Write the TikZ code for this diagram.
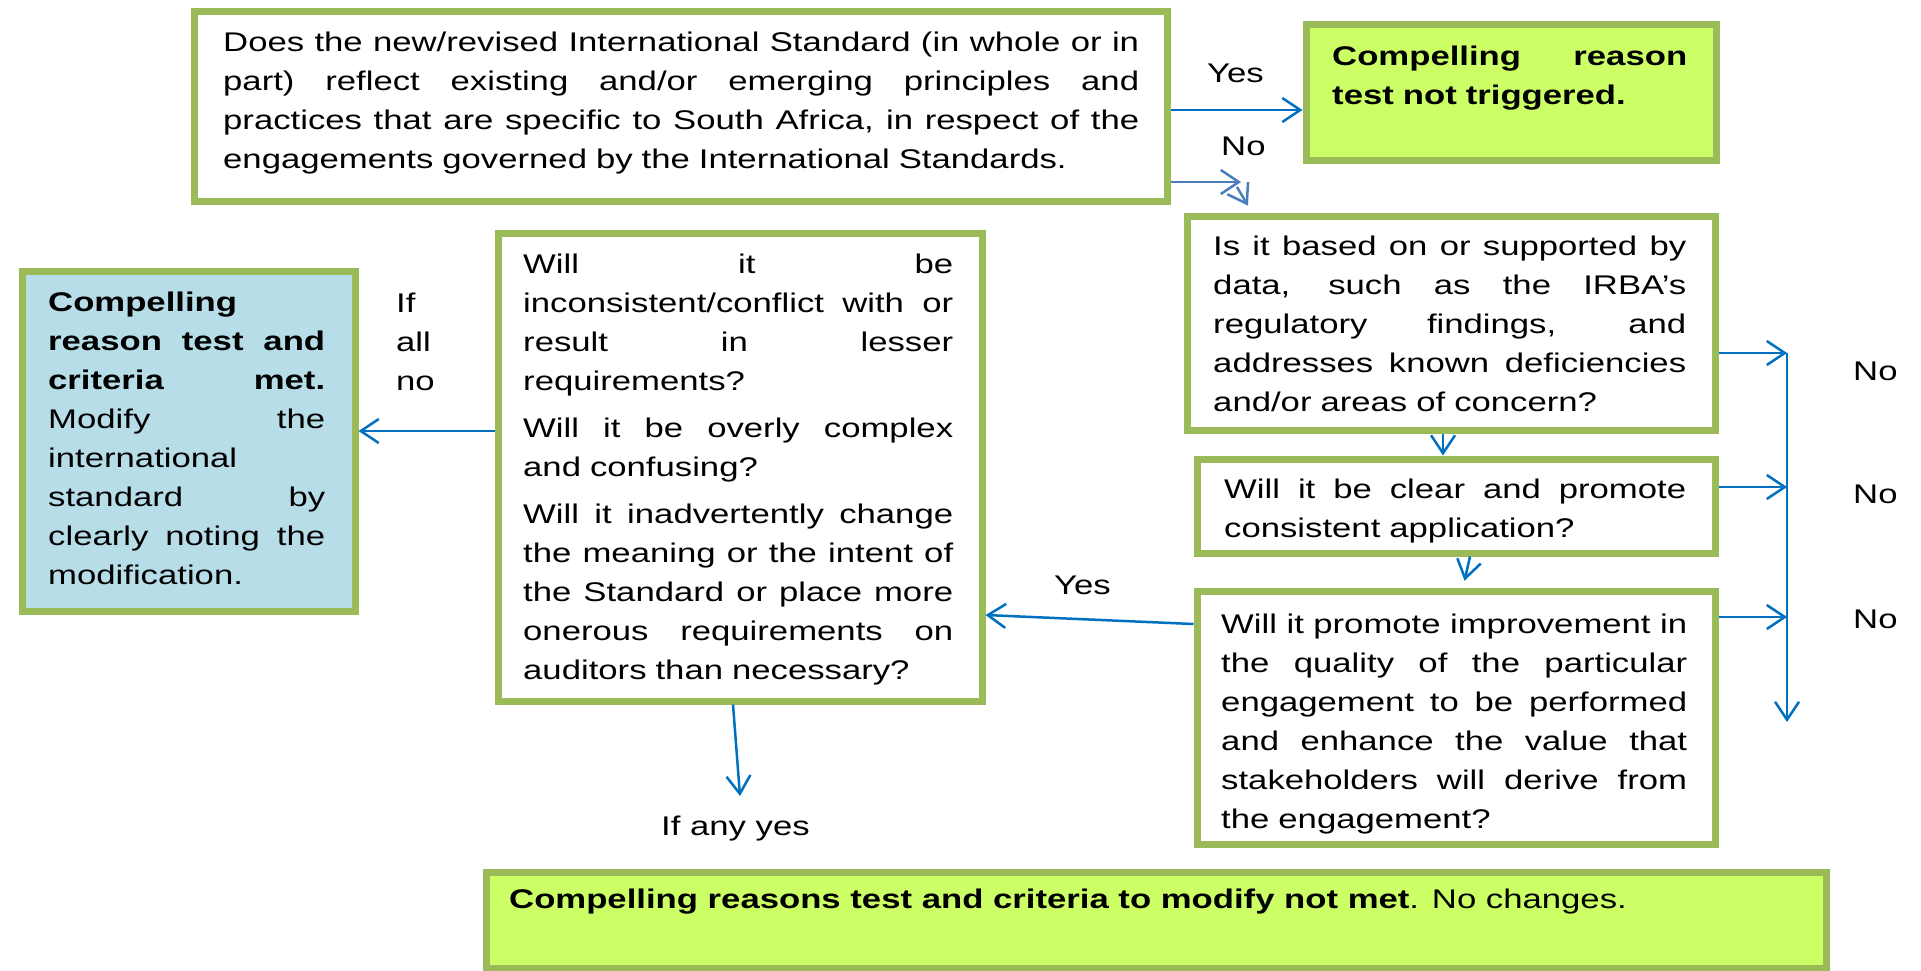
\documentclass[tikz,border=0pt]{standalone}
\usepackage{fontspec}
\setmainfont{Liberation Sans}[FakeStretch=1.285]
\usetikzlibrary{arrows.meta,calc}

\definecolor{boxgreen}{HTML}{9BBB59}
\definecolor{limefill}{HTML}{CCFF66}
\definecolor{paleblue}{HTML}{B7DEE8}
\definecolor{flowblue}{HTML}{0070C0}
\definecolor{steelblue}{HTML}{4A7EBB}

% one fully justified line of a box text (stretchable interword spaces)
\newcommand\jline[1]{\makebox[\hsize][s]{\spaceskip=0pt\xspaceskip=0pt #1}}

\tikzset{
  gbox/.style={draw=boxgreen, line width=7pt, fill=white, anchor=north west,
    inner sep=0pt, outer sep=3.5pt},
  body/.style={anchor=north west, inner sep=0pt, align=left,
    font=\fontsize{27}{39}\selectfont},
  lbl/.style={anchor=base west, inner sep=0pt, font=\fontsize{27}{39}\selectfont},
  arr/.style={draw=flowblue, line width=2.5pt,
    -{Straight Barb[length=18pt, width=24pt]}},
  arrlight/.style={arr, draw=steelblue},
}

\begin{document}
\begin{tikzpicture}[x=1pt, y=-1pt]
\useasboundingbox (0,0) rectangle (1921,970);

% ---- boxes ----
\node[gbox, minimum width=973pt, minimum height=190pt] (q1) at (190.5,7.5) {};
\node[gbox, fill=limefill, minimum width=410pt, minimum height=136pt] (nt) at (1302.5,20.5) {};
\node[gbox, minimum width=528pt, minimum height=214pt] (q2) at (1183.5,212.5) {};
\node[gbox, minimum width=518pt, minimum height=94pt] (q3) at (1193.5,455.5) {};
\node[gbox, minimum width=518pt, minimum height=253pt] (q4) at (1193.5,587.5) {};
\node[gbox, minimum width=484pt, minimum height=468pt] (q5) at (494.5,229.5) {};
\node[gbox, fill=paleblue, minimum width=333pt, minimum height=340pt] (met) at (18.5,267.5) {};
\node[gbox, fill=limefill, minimum width=1340pt, minimum height=96pt] (notmet) at (482.5,868.5) {};

% ---- box texts ----
\node[body, text width=916pt] (q1t) at (223,24.4) {\strut\jline{Does the new/revised International Standard (in whole or in}\\
\jline{part) reflect existing and/or emerging principles and}\\
\jline{practices that are specific to South Africa, in respect of the}\\
engagements governed by the International Standards.};

\node[body, text width=355pt, font=\fontsize{27}{39}\selectfont\bfseries] (ntt) at (1332,37.7)
  {\strut\jline{Compelling reason}\\ test not triggered.};

\node[body, text width=473pt] (q2t) at (1213,227.7) {\strut\jline{Is it based on or supported by}\\
\jline{data, such as the IRBA’s}\\
\jline{regulatory findings, and}\\
\jline{addresses known deficiencies}\\
and/or areas of concern?};

\node[body, text width=462pt] (q3t) at (1224,470.7) {\strut\jline{Will it be clear and promote}\\
consistent application?};

\node[body, text width=466pt] (q4t) at (1221,605.7) {\strut\jline{Will it promote improvement in}\\
\jline{the quality of the particular}\\
\jline{engagement to be performed}\\
\jline{and enhance the value that}\\
\jline{stakeholders will derive from}\\
the engagement?};

\node[body, text width=430pt] (q5t) at (523,245.7) {\strut\jline{Will it be}\\
\jline{inconsistent/conflict with or}\\
\jline{result in lesser}\\
requirements?\\[8pt]
\jline{Will it be overly complex}\\
and confusing?\\[8pt]
\jline{Will it inadvertently change}\\
\jline{the meaning or the intent of}\\
\jline{the Standard or place more}\\
\jline{onerous requirements on}\\
auditors than necessary?};

\node[body, text width=277pt] (mett) at (48,283.7) {\strut\textbf{Compelling}\\
\jline{\bfseries reason test and}\\
\jline{\bfseries criteria met.}\\
\jline{Modify the}\\
international\\
\jline{standard by}\\
\jline{clearly noting the}\\
modification.};

\node[lbl] (notmett) at (509,908) {\textbf{Compelling reasons test and criteria to modify not met}. No changes.};

% ---- connector labels ----
\node[lbl] (yes1) at (1207,82) {Yes};
\node[lbl] (no1) at (1221,155) {No};
\node[lbl] (no2) at (1853,380) {No};
\node[lbl] (no3) at (1853,503) {No};
\node[lbl] (no4) at (1853,628) {No};
\node[lbl] (yes2) at (1054,594) {Yes};
\node[lbl] (anyyes) at (661,835) {If any yes};
\node[body, text width=60pt] (allno) at (396,284.7) {\strut If\\ all\\ no};

% ---- connectors ----
\coordinate (nohead) at (1241,182);
\coordinate (nodiag) at (1237,187);
\coordinate (r1) at (1787,353);
\coordinate (r2) at (1787,487);
\coordinate (r3) at (1787,617);
\coordinate (rend) at (1787,722);
\coordinate (anyend) at (740,796);

\draw[arr] (q1.east |- 0,110) -- (nt.west |- 0,110);
\draw[arrlight] (q1.east |- 0,182) -- (nohead);
\draw[arrlight, shorten >=8pt] (nodiag) -- (q2.north -| 1252,0);

\draw[arr] (q2.south -| 1443,0) -- (q3.north -| 1443,0);
\draw[arr, shorten >=7pt] (q3.south -| 1470,0) -- (q4.north -| 1463,0);

\draw[arr] (q2.east |- r1) -- (r1);
\draw[arr] (q3.east |- r2) -- (r2);
\draw[arr] (q4.east |- r3) -- (r3);
\draw[arr] (r1) -- (rend);

\draw[arr] (q4.west |- 0,624) -- (q5.east |- 0,615);
\draw[arr] (q5.west |- 0,431) -- (met.east |- 0,431);
\draw[arr] (q5.south -| 733,0) -- (anyend);
\end{tikzpicture}
\end{document}
